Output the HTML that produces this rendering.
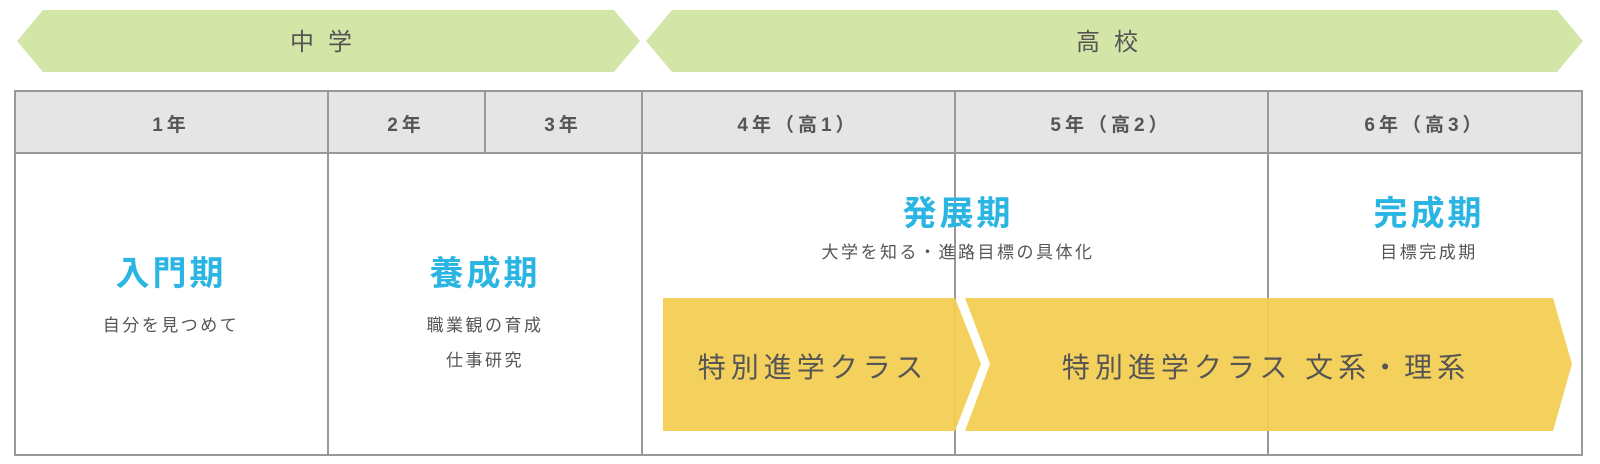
<!DOCTYPE html>
<html><head><meta charset="utf-8"><style>
html,body{margin:0;padding:0;background:#fff;width:1600px;height:464px;overflow:hidden}
svg text{font-family:"Liberation Sans","Noto Sans CJK JP",sans-serif}
</style></head><body>
<svg width="1600" height="464" viewBox="0 0 1600 464" xmlns="http://www.w3.org/2000/svg">
<polygon points="17,41 43,10 614,10 640,41 614,72 43,72" fill="#d4e6a7"/>
<polygon points="646,41 672,10 1557,10 1583,41 1557,72 672,72" fill="#d4e6a7"/>
<text x="328" y="50" font-size="24" fill="#555" text-anchor="middle" letter-spacing="14">中学</text>
<text x="1114" y="50" font-size="24" fill="#555" text-anchor="middle" letter-spacing="14">高校</text>
<rect x="15" y="91" width="1567" height="62" fill="#e5e5e5"/>
<rect x="15" y="91" width="1567" height="364" fill="none" stroke="#999" stroke-width="2"/>
<line x1="15" y1="153" x2="1582" y2="153" stroke="#999" stroke-width="2"/>
<g stroke="#999" stroke-width="2">
<line x1="328" y1="91" x2="328" y2="455"/>
<line x1="485" y1="91" x2="485" y2="153"/>
<line x1="642" y1="91" x2="642" y2="455"/>
<line x1="955" y1="91" x2="955" y2="455"/>
<line x1="1268" y1="91" x2="1268" y2="455"/>
</g>
<g font-size="19" fill="#555" text-anchor="middle" letter-spacing="4" font-weight="bold">
<text x="171" y="131">1年</text>
<text x="406" y="131">2年</text>
<text x="563" y="131">3年</text>
<text x="798" y="131">4年（高1）</text>
<text x="1111" y="131">5年（高2）</text>
<text x="1425" y="131">6年（高3）</text>
</g>
<g font-size="34" font-weight="bold" fill="#2ab5e2" text-anchor="middle" letter-spacing="3">
<text x="171" y="285">入門期</text>
<text x="485" y="285">養成期</text>
<text x="958" y="225">発展期</text>
<text x="1429" y="225">完成期</text>
</g>
<g font-size="17" fill="#555" text-anchor="middle" letter-spacing="2.5">
<text x="171" y="331">自分を見つめて</text>
<text x="485" y="331">職業観の育成</text>
<text x="485" y="366">仕事研究</text>
<text x="958" y="258">大学を知る・進路目標の具体化</text>
<text x="1429" y="258">目標完成期</text>
</g>
<polygon points="663,298 955,298 981,364 955,431 663,431" fill="#f2cd50" opacity="0.93"/>
<polygon points="965,298 1553,298 1572,364 1553,431 965,431 990,364" fill="#f2cd50" opacity="0.93"/>
<g font-size="28" fill="#555" text-anchor="middle" letter-spacing="5">
<text x="813" y="377">特別進学クラス</text>
<text x="1266" y="377">特別進学クラス 文系・理系</text>
</g>
</svg>
</body></html>
